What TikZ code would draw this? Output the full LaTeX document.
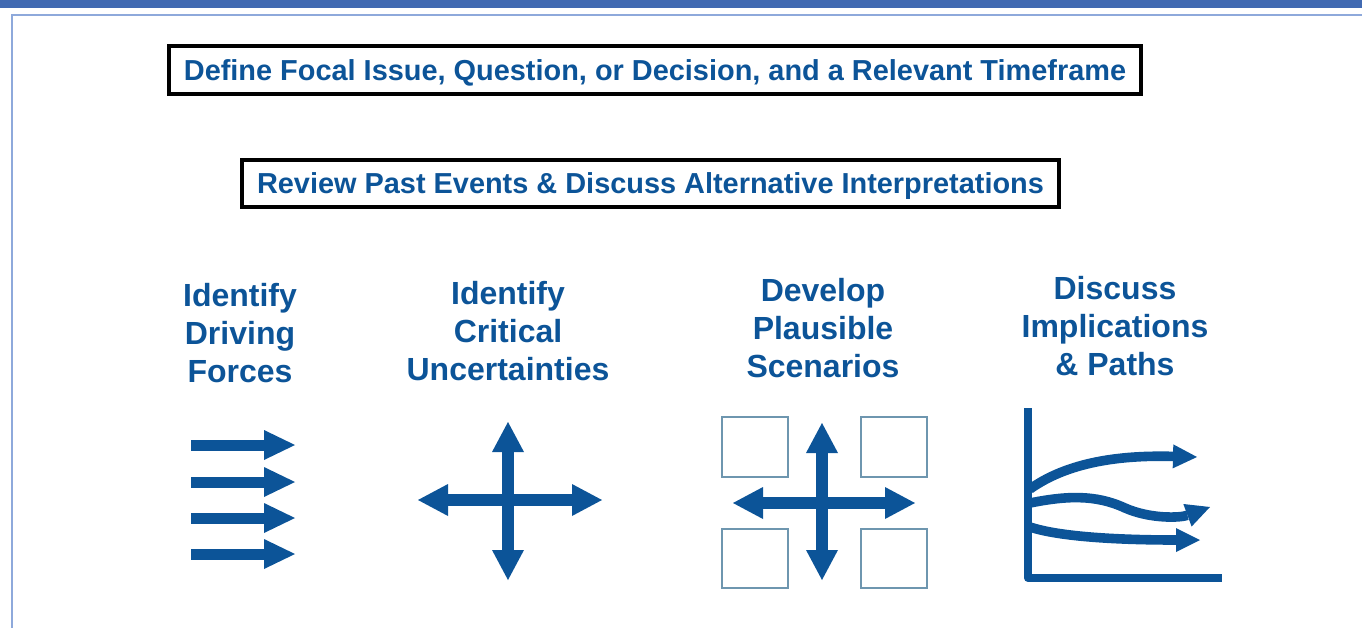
\documentclass[tikz,border=0pt]{standalone}
\usepackage{fontspec}
\setmainfont{Liberation Sans}
\usetikzlibrary{arrows.meta}
\definecolor{dblue}{RGB}{12,84,152}
\definecolor{barblue}{RGB}{65,106,178}
\definecolor{frameblue}{RGB}{142,169,219}
\definecolor{sqgray}{RGB}{110,150,175}
\begin{document}
\begin{tikzpicture}[x=0.5pt,y=-0.5pt,
  titlebox/.style={draw=black,line width=2pt,inner sep=0pt,text=dblue,
    font=\bfseries\fontsize{14.45}{17}\selectfont,text height=10.35pt,text depth=0pt},
  collabel/.style={text=dblue,font=\bfseries\fontsize{16}{18.85}\selectfont,
    align=center,inner sep=0pt,anchor=base},
  bigtip/.tip={Triangle[length=15.5pt,width=15pt,line width=0pt]},
  crosstip/.tip={Triangle[length=15pt,width=16pt,line width=0pt]},
  curvetip/.tip={Triangle[length=12pt,width=12pt,line width=0pt]},
  fatarrow/.style={draw=dblue,line width=5.5pt,-bigtip},
  crossarrow/.style={draw=dblue,line width=6pt,crosstip-crosstip},
  curvearrow/.style={draw=dblue,line width=4.8pt,-curvetip},
  sq/.style={draw=sqgray,line width=0.6pt},
  axisline/.style={draw=dblue,line width=4pt,line join=round}
]
\useasboundingbox (0,0) rectangle (1362,628);
% frame
\fill[barblue] (0,0) rectangle (1362,8);
\draw[frameblue,line width=1pt] (1362,15) -- (12,15) -- (12,628);

% title boxes
\node[titlebox,minimum width=486pt,minimum height=24pt] (t1) at (655,70)
  {Define Focal Issue, Question, or Decision, and a Relevant Timeframe};
\node[titlebox,minimum width=408.5pt,minimum height=23.5pt] (t2) at (650.5,183.5)
  {Review Past Events \& Discuss Alternative Interpretations};

% column labels (anchor = baseline of last line)
\node[collabel] (c1) at (240,382) {Identify\\Driving\\Forces};
\node[collabel] (c2) at (508,380) {Identify\\Critical\\Uncertainties};
\node[collabel] (c3) at (823,377) {Develop\\Plausible\\Scenarios};
\node[collabel] (c4) at (1115,375) {Discuss\\Implications\\\& Paths};

% column 1: driving forces
\foreach \yy in {445,482,518,554}
  \draw[fatarrow] (191,\yy) -- (295,\yy);

% column 2: critical uncertainties
\draw[crossarrow] (418,500) -- (602,500);
\draw[crossarrow] (508,422) -- (508,580);

% column 3: scenarios
\draw[sq] (722,417) rectangle (788,477);
\draw[sq] (861,417) rectangle (927,477);
\draw[sq] (722,529) rectangle (788,588);
\draw[sq] (861,529) rectangle (927,588);
\draw[crossarrow] (733,503) -- (915,503);
\draw[crossarrow] (822,423) -- (822,580);

% column 4: implications and paths
\draw[axisline] (1028,408) -- (1028,578) -- (1222,578);
\draw[curvearrow] (1030,489) .. controls (1068,462) and (1120,455) .. (1197,457);
\draw[curvearrow] (1030,503) .. controls (1065,496) and (1095,494) .. (1125,508)
  .. controls (1150,519) and (1180,518) .. (1210,507);
\draw[curvearrow] (1030,527) .. controls (1060,537) and (1120,540) .. (1200,540);
\end{tikzpicture}
\end{document}
